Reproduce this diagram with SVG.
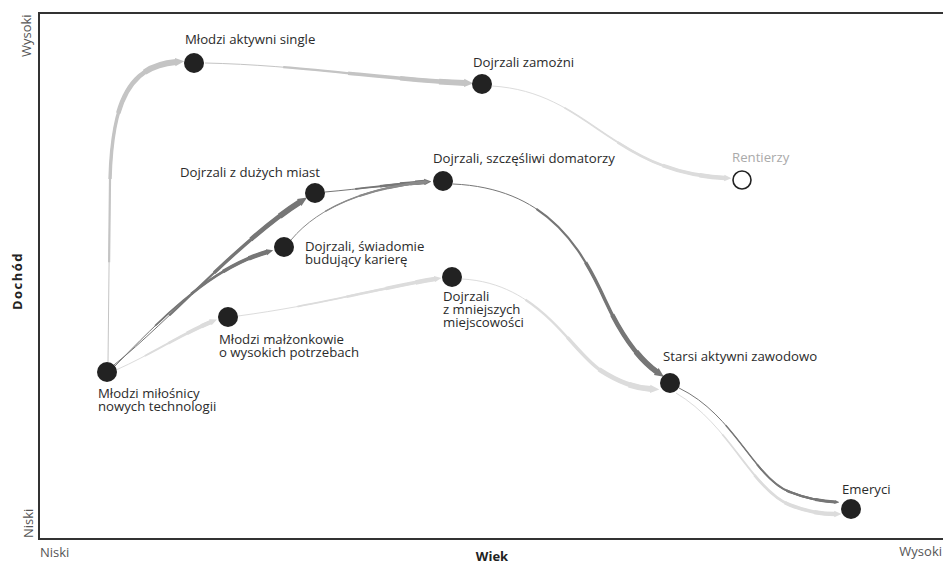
<svg xmlns="http://www.w3.org/2000/svg" xmlns:xlink="http://www.w3.org/1999/xlink" width="943" height="566" viewBox="0 0 943 566">
<style>
text{font-family:"Open Sans","Liberation Sans",sans-serif;font-size:13.2px;fill:#2b2b2b}
.ax{font-size:13px;fill:#555}
.axb{font-size:13px;font-weight:bold;fill:#222}
.node{fill:#222}
.hollow{fill:#fff;stroke:#222;stroke-width:1.6}
.frame{stroke:#333;stroke-width:2;fill:none}
.conn use{fill:none}
.dark{stroke:#767676}
.mid{stroke:#8a8a8a}
.light{stroke:#c4c4c4}
.pale{stroke:#dcdcdc}
.l1{stroke-width:1}
.l2{stroke-dasharray:0 30 70}
.l3{stroke-dasharray:0 55 45}
.l4{stroke-dasharray:0 75 25}
.l5{stroke-dasharray:0 90 10}
.big .l2{stroke-width:2.2}.big .l3{stroke-width:3.4}.big .l4{stroke-width:4.6}.big .l5{stroke-width:5.8}
.med .l2{stroke-width:1.8}.med .l3{stroke-width:2.7}.med .l4{stroke-width:3.6}.med .l5{stroke-width:4.5}
.sm .l2{stroke-width:1.4}.sm .l3{stroke-width:1.9}.sm .l4{stroke-width:2.4}.sm .l5{stroke-width:3}
.dark .l5{marker-end:url(#mk-dark)}
.mid .l5{marker-end:url(#mk-mid)}
.light .l5{marker-end:url(#mk-light)}
.pale .l5{marker-end:url(#mk-pale)}
</style>
<defs>
<marker id="mk-dark" viewBox="0 0 10 10" markerWidth="1.6" markerHeight="1.6" refX="1" refY="5" orient="auto"><path d="M0,0.5 L10,5 L0,9.5 z" fill="#767676"/></marker>
<marker id="mk-mid" viewBox="0 0 10 10" markerWidth="1.6" markerHeight="1.6" refX="1" refY="5" orient="auto"><path d="M0,0.5 L10,5 L0,9.5 z" fill="#8a8a8a"/></marker>
<marker id="mk-light" viewBox="0 0 10 10" markerWidth="1.6" markerHeight="1.6" refX="1" refY="5" orient="auto"><path d="M0,0.5 L10,5 L0,9.5 z" fill="#c4c4c4"/></marker>
<marker id="mk-pale" viewBox="0 0 10 10" markerWidth="1.6" markerHeight="1.6" refX="1" refY="5" orient="auto"><path d="M0,0.5 L10,5 L0,9.5 z" fill="#dcdcdc"/></marker>
<path id="c1" pathLength="100" d="M108,362 L110,180 C112,100 130,66 176,62"/>
<path id="c2" pathLength="100" d="M205,63 C300,65 390,80 465,83"/>
<path id="c3" pathLength="100" d="M492,86 C590,92 610,172 725,178"/>
<path id="c4" pathLength="100" d="M114,365 C170,320 240,240 300,202"/>
<path id="c5" pathLength="100" d="M114,367 C160,320 210,268 267,252"/>
<path id="c6" pathLength="100" d="M116,370 C150,355 180,335 211,322"/>
<path id="c7" pathLength="100" d="M325,192 C360,189 395,184 425,182"/>
<path id="c8" pathLength="100" d="M291,240 C320,205 370,188 425,182"/>
<path id="c9" pathLength="100" d="M238,316 C320,305 380,288 435,279"/>
<path id="c10" pathLength="100" d="M453,184 C545,188 580,245 605,300 C622,337 640,360 657,372"/>
<path id="c11" pathLength="100" d="M462,279 C540,283 570,350 600,370 C620,383 635,388 651,389"/>
<path id="c12" pathLength="100" d="M676,393 C730,425 752,490 790,505 C805,511 820,514 835,514"/>
<path id="c13" pathLength="100" d="M679,388 C735,415 755,480 790,492 C805,498 820,501 835,502"/>
</defs>
<rect width="943" height="566" fill="#fff"/>
<g id="axes">
<path class="frame" d="M943,13 L39,13 L39,539 L943,539"/>
<text class="ax" transform="translate(31,57) rotate(-90)">Wysoki</text>
<text class="axb" transform="translate(22,281) rotate(-90)" text-anchor="middle" letter-spacing="1.5">Dochód</text>
<text class="ax" transform="translate(33,538) rotate(-90)">Niski</text>
<text class="ax" x="40" y="557">Niski</text>
<text class="axb" x="492" y="561" text-anchor="middle">Wiek</text>
<text class="ax" x="942" y="556" text-anchor="end">Wysoki</text>
</g>
<g id="connectors">
<g class="conn big light"><use href="#c1" class="l1"/><use href="#c1" class="l2"/><use href="#c1" class="l3"/><use href="#c1" class="l4"/><use href="#c1" class="l5"/></g>
<g class="conn big light"><use href="#c2" class="l1"/><use href="#c2" class="l2"/><use href="#c2" class="l3"/><use href="#c2" class="l4"/><use href="#c2" class="l5"/></g>
<g class="conn med pale"><use href="#c3" class="l1"/><use href="#c3" class="l2"/><use href="#c3" class="l3"/><use href="#c3" class="l4"/><use href="#c3" class="l5"/></g>
<g class="conn big dark"><use href="#c4" class="l1"/><use href="#c4" class="l2"/><use href="#c4" class="l3"/><use href="#c4" class="l4"/><use href="#c4" class="l5"/></g>
<g class="conn med dark"><use href="#c5" class="l1"/><use href="#c5" class="l2"/><use href="#c5" class="l3"/><use href="#c5" class="l4"/><use href="#c5" class="l5"/></g>
<g class="conn med pale"><use href="#c6" class="l1"/><use href="#c6" class="l2"/><use href="#c6" class="l3"/><use href="#c6" class="l4"/><use href="#c6" class="l5"/></g>
<g class="conn med dark"><use href="#c7" class="l1"/><use href="#c7" class="l2"/><use href="#c7" class="l3"/><use href="#c7" class="l4"/><use href="#c7" class="l5"/></g>
<g class="conn sm mid"><use href="#c8" class="l1"/><use href="#c8" class="l2"/><use href="#c8" class="l3"/><use href="#c8" class="l4"/><use href="#c8" class="l5"/></g>
<g class="conn med pale"><use href="#c9" class="l1"/><use href="#c9" class="l2"/><use href="#c9" class="l3"/><use href="#c9" class="l4"/><use href="#c9" class="l5"/></g>
<g class="conn big dark"><use href="#c10" class="l1"/><use href="#c10" class="l2"/><use href="#c10" class="l3"/><use href="#c10" class="l4"/><use href="#c10" class="l5"/></g>
<g class="conn big pale"><use href="#c11" class="l1"/><use href="#c11" class="l2"/><use href="#c11" class="l3"/><use href="#c11" class="l4"/><use href="#c11" class="l5"/></g>
<g class="conn med pale"><use href="#c12" class="l1"/><use href="#c12" class="l2"/><use href="#c12" class="l3"/><use href="#c12" class="l4"/><use href="#c12" class="l5"/></g>
<g class="conn sm dark"><use href="#c13" class="l1"/><use href="#c13" class="l2"/><use href="#c13" class="l3"/><use href="#c13" class="l4"/><use href="#c13" class="l5"/></g>
</g>
<g id="n-tech"><circle class="node" cx="107" cy="372" r="10"/><text x="98" y="398">Młodzi miłośnicy</text><text x="98" y="411">nowych technologii</text></g>
<g id="n-single"><circle class="node" cx="194" cy="63" r="10"/><text x="185" y="44">Młodzi aktywni single</text></g>
<g id="n-zamozni"><circle class="node" cx="482" cy="84" r="10"/><text x="473" y="67">Dojrzali zamożni</text></g>
<g id="n-rentierzy"><circle class="hollow" cx="742" cy="180" r="9"/><text x="732" y="162" style="fill:#aaa">Rentierzy</text></g>
<g id="n-duze"><circle class="node" cx="315" cy="193" r="10"/><text x="180" y="177">Dojrzali z dużych miast</text></g>
<g id="n-domatorzy"><circle class="node" cx="443" cy="181" r="10"/><text x="433" y="163">Dojrzali, szczęśliwi domatorzy</text></g>
<g id="n-kariera"><circle class="node" cx="284" cy="247" r="10"/><text x="305" y="251">Dojrzali, świadomie</text><text x="305" y="264">budujący karierę</text></g>
<g id="n-malzonkowie"><circle class="node" cx="228" cy="317" r="10"/><text x="219" y="344">Młodzi małżonkowie</text><text x="219" y="357">o wysokich potrzebach</text></g>
<g id="n-mniejsze"><circle class="node" cx="452" cy="277" r="10"/><text x="443" y="301">Dojrzali</text><text x="443" y="314">z mniejszych</text><text x="443" y="327">miejscowości</text></g>
<g id="n-starsi"><circle class="node" cx="670" cy="383" r="10"/><text x="663" y="361">Starsi aktywni zawodowo</text></g>
<g id="n-emeryci"><circle class="node" cx="851" cy="509" r="10"/><text x="842" y="494">Emeryci</text></g>
</svg>
